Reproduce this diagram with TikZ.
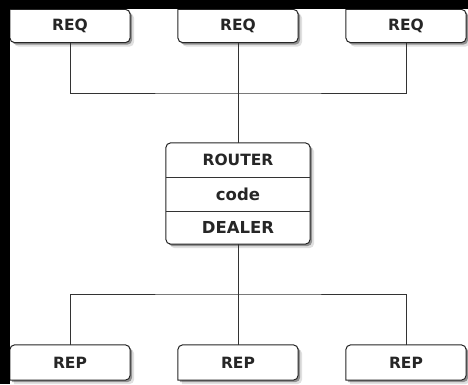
\documentclass[tikz,border=0pt]{standalone}
\usepackage{fontspec}
\setmainfont{DejaVu Sans}
\usetikzlibrary{calc}
\pgfdeclarelayer{back}
\pgfdeclarelayer{bg}
\pgfsetlayers{back,bg,main}
\begin{document}
\begin{tikzpicture}[x=1pt,y=-1pt,
  lbl/.style={font=\fontsize{15.5}{18}\selectfont\bfseries, text=black!85, inner sep=0pt},
  biglbl/.style={lbl, font=\fontsize{16.5}{19}\selectfont\bfseries},
  cell/.style={lbl, minimum width=120pt},
  wire/.style={draw=black!80, line width=1pt},
  outline/.style={draw=black!85, line width=1pt, fill=white},
  shadeA/.style={fill=black, opacity=.35},
  shadeB/.style={fill=black, opacity=.12}]
\useasboundingbox (0,0) rectangle (468,384);
\begin{pgfonlayer}{back}
  \fill[white] (0,0) rectangle (468,384);
\end{pgfonlayer}

% nodes
\node[cell, minimum height=33pt] (q1) at (70,26) {REQ};
\node[cell, minimum height=33pt] (q2) at (238,26) {REQ};
\node[cell, minimum height=33pt] (q3) at (406,26) {REQ};
\node[cell, minimum height=35pt] (p1) at (70,362.5) {REP};
\node[cell, minimum height=35pt] (p2) at (238,362.5) {REP};
\node[cell, minimum height=35pt] (p3) at (406,362.5) {REP};
\node[minimum width=144pt, minimum height=101pt, inner sep=0pt] (router) at (238,193.5) {};
\node[lbl] (rt) at (238,160) {ROUTER};
\node[biglbl] (cd) at (238,194) {code};
\node[biglbl] (dl) at (238,227.5) {DEALER};

% connectors
\coordinate (jt) at (238,93);
\coordinate (jb) at (238,294);
\draw[wire] (q1.south) |- (jt) -| (q3.south);
\draw[wire] (q2.south) -- (router.north);
\draw[wire] (p1.north) |- (jb) -| (p3.north);
\draw[wire] (router.south) -- (p2.north);

% dividers
\coordinate (m1) at (238,177);
\coordinate (m2) at (238,211);
\draw[wire] (router.west |- m1) -- (router.east |- m1);
\draw[wire] (router.west |- m2) -- (router.east |- m2);

\begin{pgfonlayer}{bg}
  \foreach \n in {q1,q2,q3} {
    \fill[shadeB] ([shift={(4,4)}]\n.north west) [rounded corners=5pt] -- ([shift={(4,4)}]\n.south west) -- ([shift={(4,4)}]\n.south east) -- ([shift={(4,4)}]\n.north east) [sharp corners] -- cycle;
    \fill[shadeA] ([shift={(2,2)}]\n.north west) [rounded corners=5pt] -- ([shift={(2,2)}]\n.south west) -- ([shift={(2,2)}]\n.south east) -- ([shift={(2,2)}]\n.north east) [sharp corners] -- cycle;
    \draw[outline] (\n.north west) [rounded corners=5pt] -- (\n.south west) -- (\n.south east) -- (\n.north east) [sharp corners] -- cycle;
  }
  \foreach \n in {p1,p2,p3} {
    \fill[shadeB] ([shift={(4,4)}]\n.south west) [rounded corners=5pt] -- ([shift={(4,4)}]\n.north west) -- ([shift={(4,4)}]\n.north east) -- ([shift={(4,4)}]\n.south east) [sharp corners] -- cycle;
    \fill[shadeA] ([shift={(2,2)}]\n.south west) [rounded corners=5pt] -- ([shift={(2,2)}]\n.north west) -- ([shift={(2,2)}]\n.north east) -- ([shift={(2,2)}]\n.south east) [sharp corners] -- cycle;
    \draw[outline] (\n.south west) [rounded corners=5pt] -- (\n.north west) -- (\n.north east) -- (\n.south east) [sharp corners] -- cycle;
  }
  \fill[shadeB, rounded corners=5pt] ([shift={(4,4)}]router.north west) rectangle ([shift={(4,4)}]router.south east);
  \fill[shadeA, rounded corners=5pt] ([shift={(2,2)}]router.north west) rectangle ([shift={(2,2)}]router.south east);
  \draw[outline, rounded corners=5pt] (router.north west) rectangle (router.south east);
\end{pgfonlayer}

% black frame
\fill[black] (0,0) rectangle (10,384);
\fill[black] (0,0) rectangle (468,9);
\end{tikzpicture}
\end{document}
